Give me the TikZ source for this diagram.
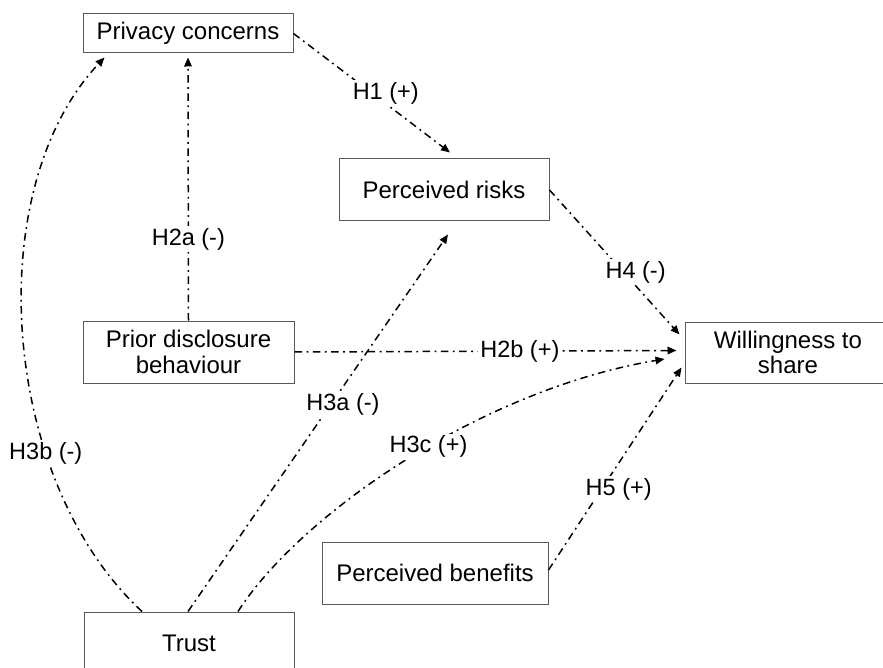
\documentclass[tikz,border=0pt]{standalone}
\usepackage{fontspec}
\setmainfont{Liberation Sans}
\usetikzlibrary{arrows.meta}
\begin{document}
\begin{tikzpicture}[x=1pt,y=-1pt,
  construct/.style={draw=black!65, line width=1pt, rectangle, inner sep=0pt,
    align=center, font=\fontsize{24}{25.5}\selectfont},
  hypo/.style={line width=1.5pt, dash pattern=on 7.5pt off 4.5pt on 1.8pt off 4.5pt,
    -{Triangle[length=9pt,width=7.5pt]}},
  hlabel/.style={fill=white, inner sep=2pt, font=\fontsize{23.5}{25}\selectfont}]
  \clip (0,0) rectangle (883,668);
  \fill[white] (0,0) rectangle (883,668);

  % constructs
  \node[construct, minimum width=210pt, minimum height=39pt] (pc) at (188,33.5) {Privacy concerns};
  \node[construct, minimum width=210pt, minimum height=62pt] (pr) at (444,190) {Perceived risks};
  \node[construct, minimum width=211pt, minimum height=62pt] (pd) at (188.5,352) {Prior disclosure\\behaviour};
  \node[construct, minimum width=206pt, minimum height=61pt] (ws) at (788,352.5) {Willingness to\\share};
  \node[construct, minimum width=226pt, minimum height=62pt] (pb) at (435,573) {Perceived benefits};
  \node[construct, minimum width=210pt, minimum height=62pt] (tr) at (189,643) {Trust};

  % hypotheses
  \draw[hypo] (pc.east) -- ([xshift=6pt,yshift=6pt]pr.north)
    node[hlabel, pos=0.5, xshift=14pt] {H1 (+)};
  \draw[hypo] (pd.north) -- ([yshift=-4pt]pc.south)
    node[hlabel, pos=0.31] {H2a (-)};
  \draw[hypo] (pd.east) -- ([xshift=-8pt,yshift=2pt]ws.west)
    node[hlabel, pos=0.59] {H2b (+)};
  \draw[hypo] ([xshift=-1pt]tr.north) -- ([xshift=4pt,yshift=-13pt]pr.south)
    node[hlabel, pos=0.55, xshift=12pt] {H3a (-)};
  \draw[hypo] ([xshift=-47pt]tr.north) .. controls (0,480) and (-20,190) .. ([xshift=22pt,yshift=-4pt]pc.south west)
    node[hlabel, pos=0.31] {H3b (-)};
  \draw[hypo] ([xshift=49pt]tr.north) .. controls (300,515) and (480,390) .. ([xshift=-20pt,yshift=-6.5pt]ws.west)
    node[hlabel, pos=0.55] {H3c (+)};
  \draw[hypo] (pr.east) -- ([xshift=-5pt,yshift=-13pt]ws.north west)
    node[hlabel, pos=0.57, xshift=12pt] {H4 (-)};
  \draw[hypo] ([yshift=3pt]pb.east) -- ([xshift=-3pt,yshift=16pt]ws.south west)
    node[hlabel, pos=0.4, xshift=17pt] {H5 (+)};
\end{tikzpicture}
\end{document}
